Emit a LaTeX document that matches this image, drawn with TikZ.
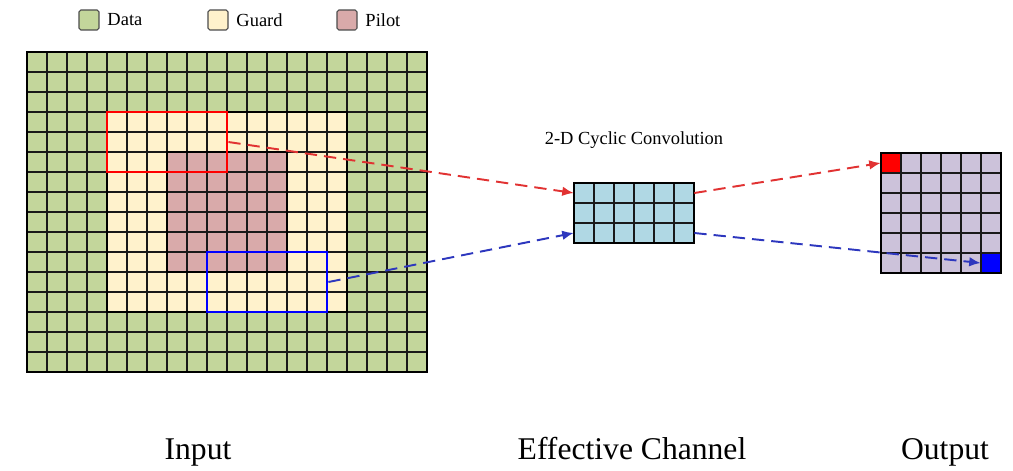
\documentclass[tikz,border=0pt]{standalone}
\usepackage{fontspec}
\setmainfont{Liberation Serif}
\usetikzlibrary{arrows.meta,positioning}

\definecolor{datagreen}{RGB}{195,214,155}
\definecolor{guardyellow}{RGB}{255,242,204}
\definecolor{pilotred}{RGB}{217,170,170}
\definecolor{chanblue}{RGB}{176,216,228}
\definecolor{outlila}{RGB}{204,194,218}
\definecolor{pfeilrot}{RGB}{225,50,50}
\definecolor{pfeilblau}{RGB}{45,55,190}

\begin{document}
\begin{tikzpicture}[x=0.02cm,y=-0.02cm]
	\tikzstyle{every node}=[font=\fontsize{10.5}{12}\selectfont]
	\tikzstyle{gitter}=[black!90, line width=0.7pt]
	\tikzstyle{rand}=[black, line width=1.2pt]
	\tikzstyle{zelle}=[inner sep=0pt, minimum size=0.4cm]
	\tikzstyle{fenster}=[line width=1.6pt, inner sep=0pt, minimum width=2.4cm, minimum height=1.2cm]
	\tikzstyle{pfeil}=[dash pattern=on 7pt off 4pt, line width=1.1pt, -{Latex[length=6.5pt,width=5.5pt]}]
	\tikzstyle{legende}=[draw=black!70, line width=0.6pt, rounded corners=1pt, zelle]
	\tikzstyle{titel}=[font=\fontsize{18}{20}\selectfont, anchor=base]
	
	\useasboundingbox (0,0) rectangle (1013,470);
	
	%Legende
	\node[legende, fill=datagreen] (legdata) at (89,20) {};
	\node[right=1pt of legdata] (txtdata) {Data};
	\node[legende, fill=guardyellow] (legguard) at (218,20) {};
	\node[right=1pt of legguard] (txtguard) {Guard};
	\node[legende, fill=pilotred] (legpilot) at (347,20) {};
	\node[right=1pt of legpilot] (txtpilot) {Pilot};
	
	%Eingangsraster: Data, Guard, Pilot
	\fill[datagreen] (27,52) rectangle (427,372);
	\fill[guardyellow] (107,112) rectangle (347,312);
	\fill[pilotred] (167,152) rectangle (287,272);
	\begin{scope}[shift={(27,52)}]
		\draw[gitter] (0,0) grid[step=0.4cm] (400,320);
	\end{scope}
	\draw[rand] (107,112) rectangle (347,312) (167,152) rectangle (287,272);
	\draw[rand] (27,52) rectangle (427,372);
	
	%Fenster
	\node[fenster, draw=red] (rotfenster) at (167,142) {};
	\node[fenster, draw=blue] (blaufenster) at (267,282) {};
	
	%effektiver Kanal
	\node[fill=chanblue, inner sep=0pt, minimum width=2.4cm, minimum height=1.2cm] (kanal) at (634,213) {};
	\begin{scope}[shift={(574,183)}]
		\draw[gitter] (0,0) grid[step=0.4cm] (120,60);
	\end{scope}
	\draw[rand] (kanal.north west) rectangle (kanal.south east);
	\node[above=0.55cm of kanal] (faltung) {2-D Cyclic Convolution};
	\coordinate (kein1) at ([yshift=0.4cm]kanal.west);
	\coordinate (kein3) at ([yshift=-0.4cm]kanal.west);
	\coordinate (kaus1) at ([yshift=0.4cm]kanal.east);
	\coordinate (kaus3) at ([yshift=-0.4cm]kanal.east);
	
	%Ausgang
	\node[fill=outlila, inner sep=0pt, minimum size=2.4cm] (ausgang) at (941,213) {};
	\node[zelle, fill=red, anchor=north west] (rotzelle) at (ausgang.north west) {};
	\node[zelle, fill=blue, anchor=south east] (blauzelle) at (ausgang.south east) {};
	\begin{scope}[shift={(881,153)}]
		\draw[gitter] (0,0) grid[step=0.4cm] (120,120);
	\end{scope}
	\draw[rand] (ausgang.north west) rectangle (ausgang.south east);
	
	%Pfeile
	\draw[pfeil, pfeilrot] (rotfenster.east) -- (kein1);
	\draw[pfeil, pfeilblau] (blaufenster.east) -- (kein3);
	\draw[pfeil, pfeilrot] (kaus1) -- (rotzelle.west);
	\draw[pfeil, pfeilblau] (kaus3) -- (blauzelle.west);
	
	%Beschriftung
	\node[titel] (eingang) at (198,459) {Input};
	\node[titel] (kanaltxt) at (632,459) {Effective Channel};
	\node[titel] (ausgangtxt) at (945,459) {Output};
\end{tikzpicture}
\end{document}
